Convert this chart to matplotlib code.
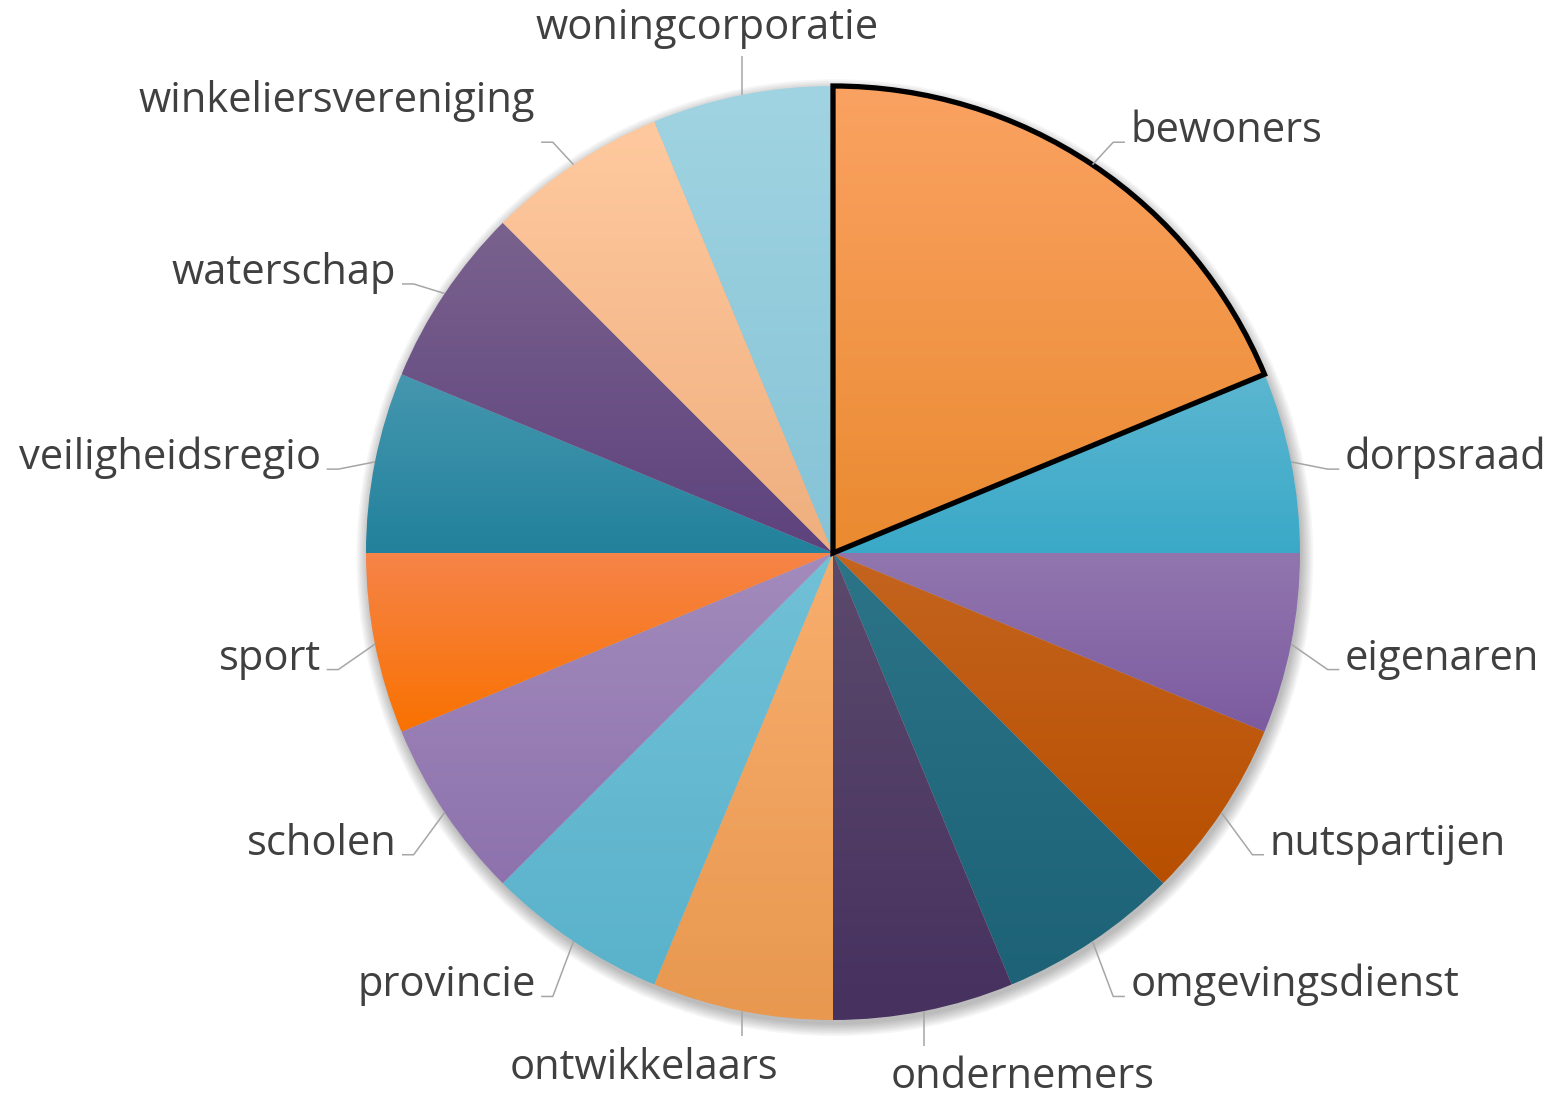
import numpy as np
import matplotlib
matplotlib.use('Agg')
import matplotlib.pyplot as plt
from matplotlib.colors import to_rgb
from matplotlib.patches import Circle

plt.rcParams['font.family'] = ['Open Sans', 'DejaVu Sans']

labels = ['bewoners', 'dorpsraad', 'eigenaren', 'nutspartijen', 'omgevingsdienst',
          'ondernemers', 'ontwikkelaars', 'provincie', 'scholen', 'sport',
          'veiligheidsregio', 'waterschap', 'winkeliersvereniging', 'woningcorporatie']
values = [3, 1, 1, 1, 1, 1, 1, 1, 1, 1, 1, 1, 1, 1]

# gradient per slice: top colour, bottom colour
top_colors = ['#FAA262', '#5CB6D0', '#9176AE', '#C4641F', '#2C7488', '#5C4A6C', '#F8AE6E',
              '#71C1D7', '#A38BBC', '#F68449', '#4597AF', '#7A628E', '#FFC99F', '#A1D4E2']
bottom_colors = ['#EA8A30', '#3AA9C8', '#7C5BA0', '#B84F00', '#1D6276', '#46315F', '#E8984F',
                 '#5AB2CB', '#8D72AD', '#F97100', '#22819C', '#5D427D', '#EFAF7E', '#85C3D6']

W, H = 1550, 1100
cx, cy, R = 833, 553, 467

fig = plt.figure(figsize=(W / 100, H / 100), dpi=100)
ax = fig.add_axes([0, 0, 1, 1])
ax.set_aspect('equal')
ax.axis('off')

# soft shadow
for k in range(8):
    ax.add_patch(Circle((0.004, -0.010), 1.0 + 0.0035 * k, color='black',
                        alpha=0.035, lw=0, zorder=0))

wedges, _ = ax.pie(values, startangle=90, counterclock=False, radius=1,
                   wedgeprops=dict(facecolor='none', edgecolor='none', lw=0))
ax.set_xlim(-cx / R, (W - cx) / R)
ax.set_ylim(-(H - cy) / R, cy / R)

for w, ct, cb in zip(wedges, top_colors, bottom_colors):
    verts = w.get_path().vertices
    x0, y0 = verts.min(axis=0)
    x1, y1 = verts.max(axis=0)
    t = np.linspace(0, 1, 256)[:, None]
    grad = (1 - t) * np.array(to_rgb(ct)) + t * np.array(to_rgb(cb))
    im = ax.imshow(grad[:, None, :], extent=(x0, x1, y0, y1), origin='upper',
                   aspect='auto', zorder=1, interpolation='bilinear')
    im.set_clip_path(w)
    w.set_zorder(2)

wedges[0].set_edgecolor('black')
wedges[0].set_linewidth(3.8)
wedges[0].set_joinstyle('miter')

line_kw = dict(color='#A6A6A6', lw=1.1, zorder=3, solid_capstyle='butt')
text_kw = dict(fontsize=30, color='#404040', zorder=4)
# label moved up by Excel's best fit
text_lift = {'winkeliersvereniging': 0.065}

for lab, w in zip(labels, wedges):
    mid = np.deg2rad((w.theta1 + w.theta2) / 2)
    c, s = np.cos(mid), np.sin(mid)
    if abs(c) < 0.3:
        if s > 0:
            y_end = 1.065
            ax.plot([c, c], [s, y_end], **line_kw)
            ax.text(c - 0.075, y_end + 0.035, lab, ha='center', va='baseline', **text_kw)
        else:
            y_end = -1.055 if c > 0 else -1.035
            ax.plot([c, c], [s, y_end], **line_kw)
            ax.text(c + np.sign(c) * 0.21, y_end - 0.022, lab, ha='center', va='top',
                    **text_kw)
    else:
        ex, ey = 1.08 * c, 1.1 * s - 0.035
        sgn = np.sign(c)
        hx = ex + sgn * 0.025
        ax.plot([c, ex, hx], [s, ey, ey], **line_kw)
        ax.text(hx + sgn * 0.012, ey + text_lift.get(lab, 0), lab,
                ha='left' if sgn > 0 else 'right', va='baseline', **text_kw)

fig.savefig('out.png', dpi=100)
